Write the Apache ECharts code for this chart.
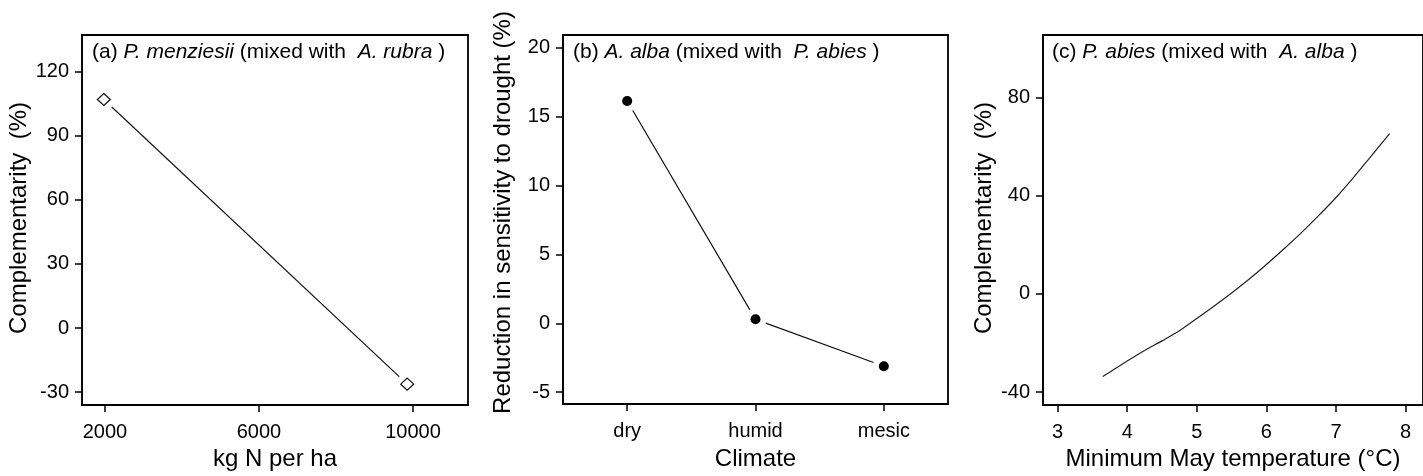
<!DOCTYPE html>
<html>
<head>
<meta charset="utf-8">
<script src="https://cdn.jsdelivr.net/npm/echarts/dist/echarts.min.js"></script>
<style>
html,body{margin:0;padding:0;background:#fff;}
#chart{width:1423px;height:476px;}
</style>
</head>
<body>
<div id="chart"></div>
<script>
// ---- Panel (a) data ----
const nitrogenKg = [1970, 9850];
const complementarityN = [107.0, -26.3];
const nitrogenTicks = [2000, 6000, 10000];
const complementarityNTicks = [-30, 0, 30, 60, 90, 120];

// ---- Panel (b) data ----
const climateCats = ['dry', 'humid', 'mesic'];
const droughtReduction = [16.15, 0.29, -3.12];
const droughtTicks = [-5, 0, 5, 10, 15, 20];

// ---- Panel (c) data ----
const mayTemp = [3.65, 4.0, 4.25, 4.5, 4.75, 5.0, 5.25, 5.5, 5.75, 6.0, 6.25, 6.5, 6.75, 7.0, 7.25, 7.5, 7.77];
const complementarityT = [-33.6, -27.3, -23.0, -19.1, -15.0, -10.0, -4.9, 0.4, 6.0, 12.0, 18.3, 24.9, 31.9, 39.3, 47.4, 56.0, 65.3];
const tempTicks = [3, 4, 5, 6, 7, 8];
const complementarityTTicks = [-40, 0, 40, 80];

const FONT = "'Liberation Sans', Arial, sans-serif";
const INK = '#000';

function pairs(xs, ys) { return xs.map((x, i) => [x, ys[i]]); }
const plain = v => String(v);

function valueAxis(gridIndex, min, max, ticks, extra) {
  return Object.assign({
    type: 'value', gridIndex, min, max, scale: true,
    splitLine: { show: false },
    axisLine: { show: true, onZero: false, lineStyle: { color: INK, width: 1.5 } },
    axisTick: { show: true, inside: false, length: 7, customValues: ticks, lineStyle: { color: INK, width: 1.5 } },
    axisLabel: { show: true, customValues: ticks, formatter: plain, color: INK, fontFamily: FONT, fontSize: 20, margin: 13 },
    nameTextStyle: { color: INK, fontFamily: FONT, fontSize: 24 }
  }, extra || {});
}

const gridBase = { top: 35, height: 372, show: true, borderColor: INK, borderWidth: 1.8, backgroundColor: 'transparent', containLabel: false };

function titleRich(left, parts) {
  return {
    left, top: 42, padding: 0,
    text: parts,
    textStyle: {
      fontFamily: FONT, fontSize: 21, color: INK, fontWeight: 'normal',
      rich: {
        n: { fontFamily: FONT, fontSize: 21, color: INK, fontWeight: 'normal' },
        i: { fontFamily: FONT, fontSize: 21, color: INK, fontWeight: 'normal', fontStyle: 'italic' }
      }
    }
  };
}

const chart = echarts.init(document.getElementById('chart'), null, { renderer: 'canvas' });

chart.setOption({
  animation: false,
  backgroundColor: '#fff',
  title: [
    titleRich(92, '{n|(a) }{i|P. menziesii}{n| (mixed with  }{i|A. rubra}{n| )}'),
    titleRich(573, '{n|(b) }{i|A. alba}{n| (mixed with  }{i|P. abies}{n| )}'),
    titleRich(1052, '{n|(c) }{i|P. abies}{n| (mixed with  }{i|A. alba}{n| )}')
  ],
  grid: [
    Object.assign({ left: 82, width: 386 }, gridBase),
    Object.assign({ left: 563, width: 385 }, gridBase),
    Object.assign({ left: 1043, width: 392 }, gridBase)
  ],
  xAxis: [
    valueAxis(0, 1403, 11429, nitrogenTicks, {
      name: 'kg N per ha', nameLocation: 'middle', nameGap: 42,
      axisLabel: { show: true, customValues: nitrogenTicks, formatter: plain, color: INK, fontFamily: FONT, fontSize: 20, margin: 17 }
    }),
    {
      type: 'category', gridIndex: 1, data: climateCats, boundaryGap: true,
      name: 'Climate', nameLocation: 'middle', nameGap: 43,
      nameTextStyle: { color: INK, fontFamily: FONT, fontSize: 24 },
      splitLine: { show: false },
      axisLine: { show: true, onZero: false, lineStyle: { color: INK, width: 1.5 } },
      axisTick: { show: true, alignWithLabel: true, inside: false, length: 7, lineStyle: { color: INK, width: 1.5 } },
      axisLabel: { color: INK, fontFamily: FONT, fontSize: 20, margin: 17 }
    },
    valueAxis(2, 2.79, 8.25, tempTicks, {
      name: 'Minimum May temperature (°C)', nameLocation: 'middle', nameGap: 36,
      axisLabel: { show: true, customValues: tempTicks, formatter: plain, color: INK, fontFamily: FONT, fontSize: 20, margin: 17 }
    })
  ],
  yAxis: [
    valueAxis(0, -36.06, 137.2, complementarityNTicks, {
      name: 'Complementarity  (%)', nameLocation: 'middle', nameGap: 46,
      nameTextStyle: { color: INK, fontFamily: FONT, fontSize: 24, padding: [0, 0, 0, 4] }
    }),
    valueAxis(1, -5.86, 20.94, droughtTicks, {
      name: 'Reduction in sensitivity to drought (%)', nameLocation: 'middle', nameGap: 48,
      nameTextStyle: { color: INK, fontFamily: FONT, fontSize: 24, padding: [0, 0, 0, 14] }
    }),
    valueAxis(2, -45.27, 105.5, complementarityTTicks, {
      name: 'Complementarity  (%)', nameLocation: 'middle', nameGap: 47,
      nameTextStyle: { color: INK, fontFamily: FONT, fontSize: 24, padding: [0, 0, 0, 4] }
    })
  ],
  series: [
    // (a) line, gap halos, open diamonds
    { type: 'line', xAxisIndex: 0, yAxisIndex: 0, z: 1, data: pairs(nitrogenKg, complementarityN), showSymbol: false,
      lineStyle: { color: '#111', width: 1.2 }, silent: true },
    { type: 'scatter', xAxisIndex: 0, yAxisIndex: 0, z: 3, data: pairs(nitrogenKg, complementarityN), symbol: 'circle', symbolSize: 22,
      itemStyle: { color: '#fff', opacity: 1 }, silent: true },
    { type: 'scatter', xAxisIndex: 0, yAxisIndex: 0, z: 4, data: pairs(nitrogenKg, complementarityN), symbol: 'diamond', symbolSize: [13, 12],
      itemStyle: { color: '#fff', borderColor: '#111', borderWidth: 1.2, opacity: 1 } },
    // (b)
    { type: 'line', xAxisIndex: 1, yAxisIndex: 1, z: 1, data: droughtReduction, showSymbol: false,
      lineStyle: { color: '#111', width: 1.2 }, silent: true },
    { type: 'scatter', xAxisIndex: 1, yAxisIndex: 1, z: 3, data: droughtReduction, symbol: 'circle', symbolSize: 22,
      itemStyle: { color: '#fff', opacity: 1 }, silent: true },
    { type: 'scatter', xAxisIndex: 1, yAxisIndex: 1, z: 4, data: droughtReduction, symbol: 'circle', symbolSize: 10,
      itemStyle: { color: '#000', opacity: 1 } },
    // (c)
    { type: 'line', xAxisIndex: 2, yAxisIndex: 2, z: 1, data: pairs(mayTemp, complementarityT), showSymbol: false, smooth: 0.3,
      lineStyle: { color: '#222', width: 1.2 } }
  ]
});
</script>
</body>
</html>
